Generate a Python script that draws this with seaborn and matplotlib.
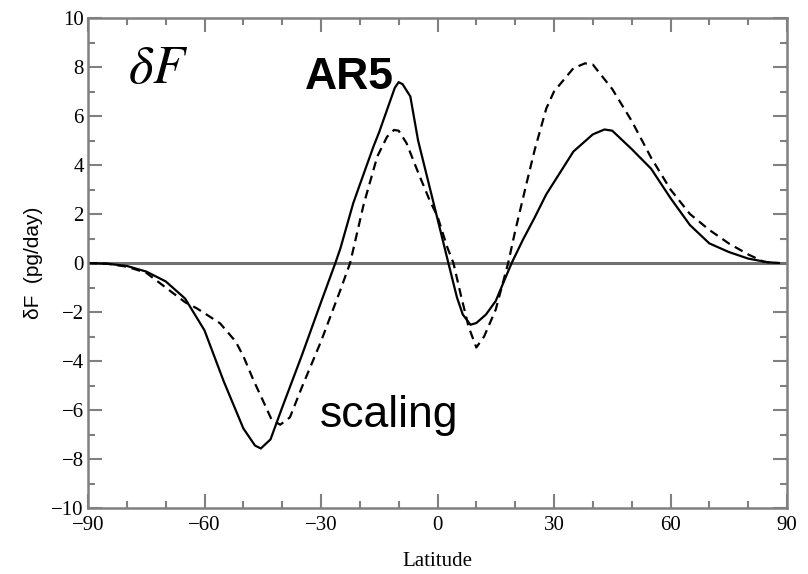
import matplotlib
matplotlib.use("Agg")
import matplotlib.pyplot as plt
from matplotlib.ticker import MultipleLocator
import seaborn as sns
import pandas as pd

# AR5 (solid)
ar5_lat = [-90, -85, -80, -75, -70, -65, -60, -55, -50, -47, -45.5, -43, -40, -35, -30,
           -26.3, -25, -21.7, -20, -16.5, -15, -13, -11, -10, -9, -7, -5, -2.5, 0, 2.8,
           5, 6.5, 8.5, 10, 12.5, 15, 17.5, 19.1, 22, 25, 28, 30, 35, 40, 43, 45, 50, 55,
           60, 65, 70, 75, 80, 85, 88]
ar5_val = [0, -0.03, -0.12, -0.35, -0.75, -1.45, -2.75, -4.85, -6.75, -7.45, -7.57, -7.2,
           -5.9, -3.8, -1.6, 0, 0.6, 2.44, 3.2, 4.75, 5.35, 6.25, 7.15, 7.38, 7.3, 6.8, 5.0,
           3.4, 1.8, 0, -1.4, -2.1, -2.52, -2.45, -2.1, -1.55, -0.6, 0, 0.95, 1.85, 2.8,
           3.3, 4.55, 5.25, 5.45, 5.4, 4.65, 3.85, 2.65, 1.55, 0.8, 0.45, 0.18, 0.03, 0]

# scaling (dashed)
sc_lat = [-90, -85, -80, -75, -70, -65, -62, -60, -56, -52, -50, -47.4, -45, -42.7, -40.5,
          -38, -35, -30, -25, -22.5, -19, -15.5, -13, -11.2, -10, -8, -5, -2, 0, 2.5, 4.1,
          6, 8, 10, 12, 15, 18.2, 20, 23, 25, 28, 30, 35, 38, 40, 42, 45, 50, 55, 60, 65,
          70, 75, 80, 84, 87]
sc_val = [0, -0.03, -0.15, -0.4, -1.0, -1.6, -1.85, -2.05, -2.46, -3.2, -3.8, -4.78, -5.6,
          -6.4, -6.6, -6.3, -5.1, -3.2, -1.1, 0, 2.4, 4.35, 5.15, 5.43, 5.4, 4.9, 3.7, 2.55,
          1.9, 0.65, 0, -1.3, -2.6, -3.45, -3.0, -1.9, 0, 1.3, 3.3, 4.6, 6.3, 7.0, 7.95,
          8.15, 8.1, 7.7, 7.1, 5.8, 4.3, 3.0, 2.0, 1.35, 0.8, 0.35, 0.05, 0]

x_ticks = [-90, -60, -30, 0, 30, 60, 90]
y_ticks = [-10, -8, -6, -4, -2, 0, 2, 4, 6, 8, 10]

sns.set_style("ticks")
plt.rcParams["mathtext.fontset"] = "stix"
plt.rcParams["text.color"] = "black"
plt.rcParams["axes.labelcolor"] = "black"
plt.rcParams["xtick.labelcolor"] = "black"
plt.rcParams["ytick.labelcolor"] = "black"

df = pd.concat([
    pd.DataFrame({"lat": ar5_lat, "val": ar5_val, "model": "AR5"}),
    pd.DataFrame({"lat": sc_lat, "val": sc_val, "model": "scaling"}),
])

fig = plt.figure(figsize=(8.08, 5.74), dpi=100)
ax = fig.add_axes([88/808, 1 - 508/574, 699/808, 490/574])

ax.axhline(0, color="#707070", lw=2.2, zorder=1)
sns.lineplot(data=df, x="lat", y="val", style="model", dashes={"AR5": "", "scaling": (4, 2.6)},
             color="black", lw=1.6, legend=False, sort=False, estimator=None, ax=ax)

ax.set_xlim(-90, 90)
ax.set_ylim(-10, 10)
ax.set_xticks(x_ticks)
ax.set_yticks(y_ticks)
ax.xaxis.set_minor_locator(MultipleLocator(10))
ax.yaxis.set_minor_locator(MultipleLocator(1))
ax.set_xticklabels([f"\u2212{-t}" if t < 0 else str(t) for t in x_ticks],
                   family="Liberation Serif", fontsize=15, color="black")
ax.set_yticklabels([f"\u2212{-t}" if t < 0 else str(t) for t in y_ticks],
                   family="Liberation Serif", fontsize=15, color="black")
ax.tick_params(which="both", direction="in", top=True, right=True, color="#808080", width=1.5)
ax.tick_params(which="major", length=10)
ax.tick_params(axis="x", which="major", pad=6)
ax.tick_params(axis="y", which="major", pad=3)
ax.tick_params(which="minor", length=5)
for s in ax.spines.values():
    s.set_color("#808080")
    s.set_linewidth(1.8)

ax.set_xlabel("Latitude", family="Liberation Serif", fontsize=15, labelpad=12, color="black")
ax.set_ylabel("\u03b4F  (pg/day)", family="Liberation Sans", fontsize=15, labelpad=6,
              color="black")

ax.text(-79.7, 7.35, r"$\delta F$", fontsize=38, ha="left", va="baseline", color="black")
ax.text(-34.1, 7.1, "AR5", fontsize=32, fontweight="bold", family="Liberation Sans",
        ha="left", va="baseline", color="black")
ax.text(-30.3, -6.7, "scaling", fontsize=32, family="Liberation Sans", ha="left",
        va="baseline", color="black")

fig.savefig("out.png", dpi=100)
